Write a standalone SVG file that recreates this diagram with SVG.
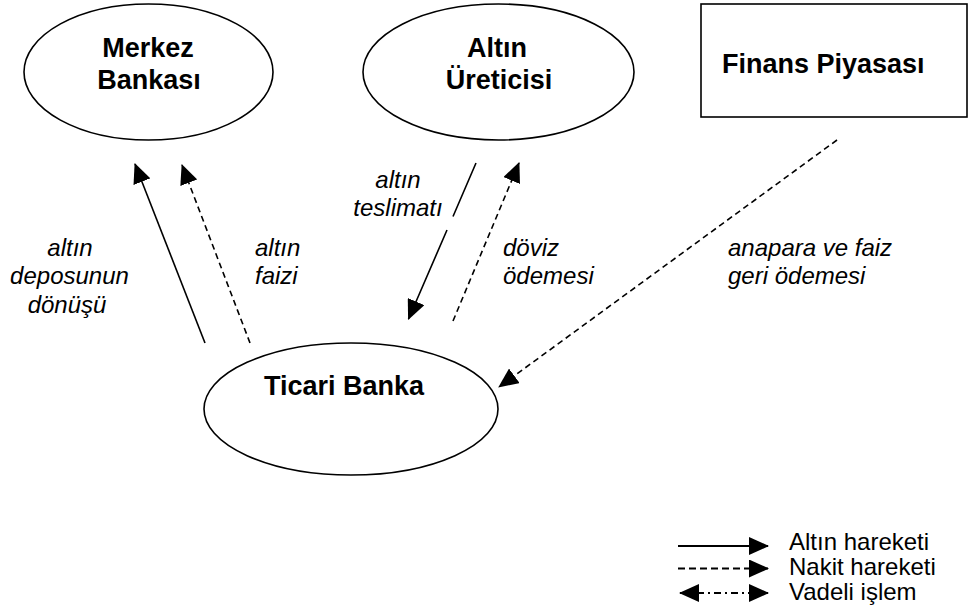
<svg xmlns="http://www.w3.org/2000/svg" width="969" height="615" viewBox="0 0 969 615">
<style>
.node{fill:#fff;stroke:#000;stroke-width:1.6}
.bold{font-family:"Liberation Sans",Arial,sans-serif;font-weight:bold;font-size:27px;fill:#000}
.lbl{font-family:"Liberation Sans",Arial,sans-serif;font-style:italic;font-size:24px;fill:#000}
.leg{font-family:"Liberation Sans",Arial,sans-serif;font-size:24px;fill:#000}
.solid{fill:none;stroke:#000;stroke-width:1.6}
.dash{fill:none;stroke:#000;stroke-width:1.6;stroke-dasharray:6,4}
.legsolid{fill:none;stroke:#000;stroke-width:2}
.legdash{fill:none;stroke:#000;stroke-width:2;stroke-dasharray:7,4}
.dashdot{fill:none;stroke:#000;stroke-width:2;stroke-dasharray:7,4,2,4}
</style>
<defs>
<marker id="ah" viewBox="0 0 20 18" refX="19" refY="9" markerWidth="20" markerHeight="18" markerUnits="userSpaceOnUse" orient="auto-start-reverse">
<path d="M0,0 L20,9 L0,18 Z" fill="#000"/>
</marker>
</defs>
<rect width="969" height="615" fill="#fff"/>
<g id="merkez-bankasi">
<ellipse class="node" cx="148.5" cy="72" rx="124.5" ry="68"/>
<text class="bold" x="148" y="57" text-anchor="middle">Merkez</text>
<text class="bold" x="149" y="89" text-anchor="middle">Bankası</text>
</g>
<g id="altin-ureticisi">
<ellipse class="node" cx="498.5" cy="72" rx="135.5" ry="68"/>
<text class="bold" x="497" y="57" text-anchor="middle">Altın</text>
<text class="bold" x="499" y="89" text-anchor="middle">Üreticisi</text>
</g>
<g id="finans-piyasasi">
<rect class="node" x="701" y="4" width="266" height="113"/>
<text class="bold" x="722" y="73">Finans Piyasası</text>
</g>
<g id="ticari-banka">
<ellipse class="node" cx="351" cy="409" rx="147" ry="66"/>
<text class="bold" x="344" y="395" text-anchor="middle">Ticari Banka</text>
</g>
<g id="connectors">
<line class="solid" x1="205" y1="343" x2="135" y2="164" marker-end="url(#ah)"/>
<line class="dash" x1="250" y1="343" x2="182" y2="165" marker-end="url(#ah)"/>
<path class="solid" d="M476,163 L453,216.5 M447,230 L408.5,319" marker-end="url(#ah)"/>
<line class="dash" x1="453" y1="321" x2="519" y2="163" marker-end="url(#ah)"/>
<line class="dash" x1="837" y1="140" x2="499" y2="387" marker-end="url(#ah)"/>
</g>
<g id="labels">
<text class="lbl" x="70" y="256" text-anchor="middle">altın</text>
<text class="lbl" x="69.5" y="284" text-anchor="middle">deposunun</text>
<text class="lbl" x="67" y="313" text-anchor="middle">dönüşü</text>
<text class="lbl" x="255" y="256">altın</text>
<text class="lbl" x="255" y="284">faizi</text>
<text class="lbl" x="398" y="188" text-anchor="middle">altın</text>
<text class="lbl" x="398" y="216" text-anchor="middle">teslimatı</text>
<text class="lbl" x="503" y="256">döviz</text>
<text class="lbl" x="503" y="284">ödemesi</text>
<text class="lbl" x="728" y="256">anapara ve faiz</text>
<text class="lbl" x="728" y="284">geri ödemesi</text>
</g>
<g id="legend">
<line class="legsolid" x1="678" y1="546" x2="768" y2="546" marker-end="url(#ah)"/>
<line class="legdash" x1="678" y1="568.5" x2="768" y2="568.5" marker-end="url(#ah)"/>
<line class="dashdot" x1="680" y1="593" x2="768" y2="593" marker-start="url(#ah)" marker-end="url(#ah)"/>
<text class="leg" x="789" y="550">Altın hareketi</text>
<text class="leg" x="789" y="575">Nakit hareketi</text>
<text class="leg" x="789" y="600">Vadeli işlem</text>
</g>
</svg>
